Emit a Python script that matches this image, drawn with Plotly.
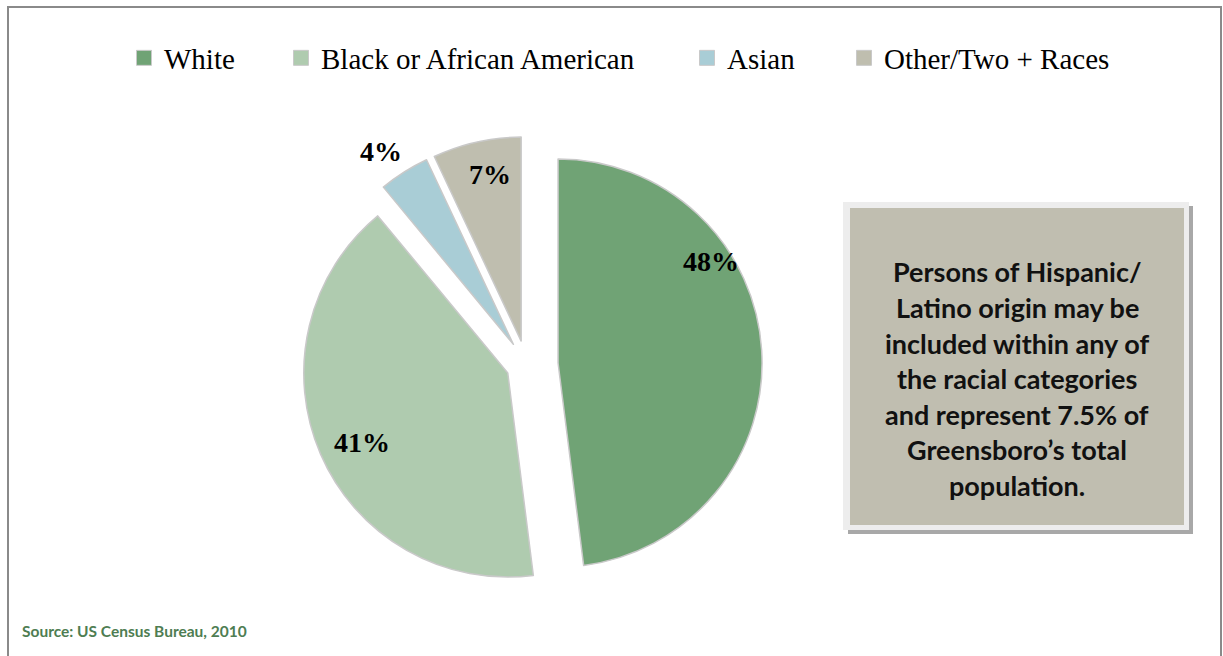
import math
import plotly.graph_objects as go

W, H = 1223, 656
OFF = 0  # body margin removed below

# ---- data ----
categories = ["White", "Black or African American", "Asian", "Other/Two + Races"]
shares = [48, 41, 4, 7]
colors = ["#70A375", "#AFCBAF", "#A9CDD6", "#BFBEAF"]
pulls = [0.155, 0.10, 0.12, 0.12]
# label placement (style): radius as fraction of R from the slice tip, angle offset in degrees
label_rfrac = [0.90, 0.79, 1.145, 0.83]
label_dang = [-30, -2, -2, 2]
note_lines = ["Persons of Hispanic/", "Latino origin may be", "included within any of",
              "the racial categories", "and represent 7.5% of",
              "Greensboro\u2019s total", "population."]
source_text = "Source: US Census Bureau, 2010"


def px(x):
    return (x - OFF) / W


def py(y):
    return 1 - (y - OFF) / H


# pie geometry (screen pixels)
cx, cy, r = 526.5, 365, 204
half = r * (1 + max(pulls))

fig = go.Figure()
fig.add_trace(go.Pie(
    labels=categories, values=shares, sort=False, direction="clockwise", rotation=0,
    pull=pulls, marker=dict(colors=colors, line=dict(color="#C9C9C9", width=1.5)),
    textinfo="none",
    domain=dict(x=[px(cx - half), px(cx + half)], y=[py(cy + half), py(cy - half)]),
    showlegend=False, hoverinfo="label+percent",
))

annotations = []
# percentage labels, positioned from the slice angles derived from the data
total = sum(shares)
cum = 0
for v, p, rf, da in zip(shares, pulls, label_rfrac, label_dang):
    mid = (cum + v / 2) / total * 360
    cum += v
    a = math.radians(mid)
    tx, ty = cx + p * r * math.sin(a), cy - p * r * math.cos(a)
    b = math.radians(mid + da)
    lx, ly = tx + rf * r * math.sin(b), ty - rf * r * math.cos(b)
    annotations.append(dict(
        xref="paper", yref="paper", x=px(lx), y=py(ly), xanchor="center", yanchor="middle",
        text=f"{round(v / total * 100)}%", showarrow=False,
        font=dict(family="Liberation Serif", size=28, color="black", weight="bold")))

# legend entries (one legend each, to reproduce the spacing)
legend_x = [124, 281, 687, 844]
layout_legends = {}
for i, (cat, col) in enumerate(zip(categories, colors)):
    key = "legend" if i == 0 else f"legend{i+1}"
    fig.add_trace(go.Scatter(
        x=[None], y=[None], mode="markers", name=cat,
        marker=dict(symbol="square", size=15, color=col, line=dict(color="#C9C9C9", width=1)),
        legend=key, showlegend=True,
    ))
    layout_legends[key] = dict(
        x=px(legend_x[i]), xanchor="left", y=py(58), yanchor="middle",
        orientation="h", bgcolor="rgba(0,0,0,0)",
        font=dict(family="Liberation Serif", size=29, color="black"),
    )

shapes = [
    # outer frame
    dict(type="rect", xref="paper", yref="paper", x0=px(8), x1=px(1221), y0=py(720), y1=py(7),
         line=dict(color="#8A8A8A", width=2), fillcolor="rgba(0,0,0,0)", layer="below"),
    # note box shadow
    dict(type="rect", xref="paper", yref="paper", x0=px(848), x1=px(1193), y0=py(534), y1=py(206),
         line=dict(width=0), fillcolor="#A8A8A8", layer="below"),
    # note box frame
    dict(type="rect", xref="paper", yref="paper", x0=px(843), x1=px(1189), y0=py(530), y1=py(202),
         line=dict(width=0), fillcolor="#EDEDED", layer="below"),
    # note box
    dict(type="rect", xref="paper", yref="paper", x0=px(850), x1=px(1184), y0=py(525), y1=py(208),
         line=dict(width=0), fillcolor="#C0BEB0", layer="below"),
]

for k, line in enumerate(note_lines):
    annotations.append(dict(
        xref="paper", yref="paper", x=px(1017), y=py(272 + 35.5 * k),
        xanchor="center", yanchor="middle", text=line, showarrow=False,
        font=dict(family="Lato", size=27, color="#111111", weight="bold")))

annotations.append(dict(
    xref="paper", yref="paper", x=px(20), y=py(631), xanchor="left", yanchor="middle",
    text=source_text, showarrow=False,
    font=dict(family="Lato", size=15.5, color="#4E7D52", weight="bold")))

fig.update_layout(
    width=W, height=H, margin=dict(l=0, r=0, t=0, b=0),
    paper_bgcolor="white", plot_bgcolor="white",
    xaxis=dict(visible=False), yaxis=dict(visible=False),
    shapes=shapes, annotations=annotations,
    **layout_legends,
)

fig.write_html("out.html", config={"displayModeBar": False},
               post_script="document.body.style.margin='0px';")
